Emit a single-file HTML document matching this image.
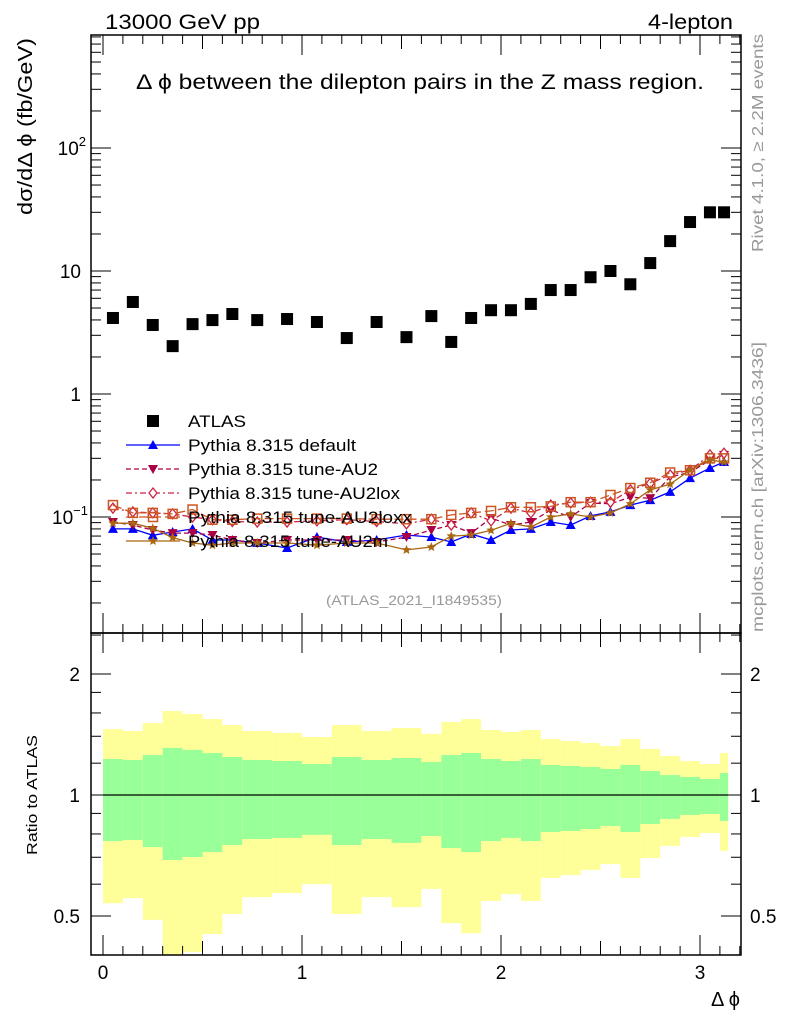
<!DOCTYPE html>
<html><head><meta charset="utf-8"><style>
body{margin:0;background:#fff}
svg{display:block;font-family:"Liberation Sans",sans-serif}
</style></head><body>
<svg id="c" width="786" height="1024" viewBox="0 0 786 1024">
<text x="105" y="29" font-size="21" textLength="155" lengthAdjust="spacingAndGlyphs">13000 GeV pp</text>
<text x="648" y="29" font-size="21" textLength="85" lengthAdjust="spacingAndGlyphs">4-lepton</text>
<text x="136" y="89" font-size="21" textLength="568" lengthAdjust="spacingAndGlyphs">Δ ϕ between the dilepton pairs in the Z mass region.</text>
<text x="326" y="605" font-size="14" fill="#999" textLength="176" lengthAdjust="spacingAndGlyphs">(ATLAS_2021_I1849535)</text>
<text transform="translate(32,215) rotate(-90)" font-size="20" textLength="177" lengthAdjust="spacingAndGlyphs">dσ/dΔ ϕ (fb/GeV)</text>
<text transform="translate(37,855) rotate(-90)" font-size="15" textLength="120" lengthAdjust="spacingAndGlyphs">Ratio to ATLAS</text>
<text x="740" y="1006" font-size="20" text-anchor="end">Δ ϕ</text>
<text transform="translate(763,252) rotate(-90)" font-size="16" fill="#999" textLength="218" lengthAdjust="spacingAndGlyphs">Rivet 4.1.0, ≥ 2.2M events</text>
<text transform="translate(763,632) rotate(-90)" font-size="16" fill="#999" textLength="290" lengthAdjust="spacingAndGlyphs">mcplots.cern.ch [arXiv:1306.3436]</text>
<g id="bands"></g><g id="main"></g><g id="axes"></g><g id="legend"></g>
</svg>
<script>
const edges=[0,0.1,0.2,0.3,0.4,0.5,0.6,0.7,0.85,1.0,1.15,1.3,1.45,1.6,1.7,1.8,1.9,2.0,2.1,2.2,2.3,2.4,2.5,2.6,2.7,2.8,2.9,3.0,3.1,3.1416];
const atlas=[4.15,5.6,3.64,2.45,3.7,3.99,4.47,3.99,4.07,3.85,2.85,3.85,2.9,4.3,2.65,4.15,4.8,4.8,5.4,7.0,7.0,8.9,10,7.8,11.6,17.5,25,30,30];
const pDefault=[0.080,0.080,0.071,0.0755,0.080,0.065,0.065,0.0615,0.056,0.0687,0.0626,0.065,0.0714,0.0687,0.0626,0.0727,0.065,0.0784,0.080,0.091,0.086,0.102,0.110,0.125,0.137,0.160,0.207,0.250,0.280];
const pAU2=[0.091,0.086,0.0784,0.074,0.074,0.0714,0.065,0.0615,0.065,0.065,0.065,0.0626,0.0687,0.0784,0.086,0.074,0.098,0.086,0.091,0.114,0.100,0.130,0.128,0.145,0.142,0.212,0.23,0.29,0.32];
const pAU2lox=[0.118,0.11,0.108,0.106,0.1,0.095,0.092,0.091,0.091,0.093,0.095,0.092,0.088,0.096,0.086,0.108,0.093,0.118,0.108,0.125,0.13,0.132,0.132,0.166,0.188,0.22,0.24,0.32,0.33];
const pAU2loxx=[0.125,0.108,0.108,0.106,0.115,0.095,0.095,0.097,0.097,0.097,0.097,0.096,0.096,0.096,0.104,0.108,0.112,0.12,0.12,0.122,0.132,0.132,0.151,0.172,0.19,0.23,0.24,0.30,0.30];
const pAU2m=[0.089,0.089,0.081,0.068,0.0615,0.059,0.0615,0.0615,0.0615,0.059,0.0615,0.0615,0.054,0.057,0.070,0.0714,0.078,0.089,0.083,0.100,0.106,0.100,0.108,0.128,0.166,0.185,0.241,0.290,0.280];
const yelHi=[1.459,1.443,1.510,1.618,1.590,1.545,1.493,1.443,1.427,1.394,1.493,1.443,1.468,1.419,1.519,1.545,1.451,1.435,1.451,1.378,1.362,1.347,1.324,1.378,1.302,1.250,1.215,1.194,1.272];
const grnHi=[1.229,1.222,1.257,1.31,1.295,1.272,1.243,1.222,1.215,1.194,1.243,1.222,1.236,1.208,1.257,1.272,1.229,1.215,1.229,1.188,1.181,1.174,1.161,1.188,1.147,1.121,1.109,1.096,1.134];
const grnLo=[0.768,0.773,0.742,0.689,0.701,0.721,0.751,0.777,0.782,0.796,0.751,0.777,0.760,0.791,0.738,0.721,0.768,0.782,0.768,0.809,0.814,0.823,0.837,0.809,0.847,0.872,0.892,0.897,0.862];
const yelLo=[0.538,0.554,0.489,0.38,0.407,0.451,0.506,0.557,0.570,0.600,0.506,0.557,0.526,0.584,0.480,0.453,0.545,0.567,0.545,0.622,0.632,0.651,0.673,0.622,0.697,0.747,0.786,0.804,0.726];
const xTicks=[0,1,2,3];
const mainTicks=[{v:0.1,t:"10",e:"−1"},{v:1,t:"1"},{v:10,t:"10"},{v:100,t:"10",e:"2"}];
const ratioTicks=[0.5,1,2];

const NS="http://www.w3.org/2000/svg";
const L=91,R=741,T=35,MB=633,RB=955;
const X=v=>103+v*199;
const Y=v=>517-(Math.log10(v)+1)*123;
const RY=v=>795-Math.log2(v)*121;
function mk(tag,at,par){const e=document.createElementNS(NS,tag);for(const k in at)e.setAttribute(k,at[k]);par.appendChild(e);return e;}
const bands=document.getElementById('bands'),main=document.getElementById('main'),axes=document.getElementById('axes'),leg=document.getElementById('legend');
const clip=mk('clipPath',{id:'rc'},bands);mk('rect',{x:L,y:MB,width:R-L,height:RB-MB},clip);
const clip2=mk('clipPath',{id:'mc'},bands);mk('rect',{x:L,y:T,width:R-L,height:MB-T},clip2);
for(let i=0;i<atlas.length;i++){
  const x0=X(edges[i]),w=X(edges[i+1])-x0;
  let r=mk('rect',{x:x0,y:RY(yelHi[i]),width:w,height:RY(yelLo[i])-RY(yelHi[i]),fill:'#ffff99','clip-path':'url(#rc)'},bands);
  
  
  r=mk('rect',{x:x0,y:RY(grnHi[i]),width:w,height:RY(grnLo[i])-RY(grnHi[i]),fill:'#99ff99','clip-path':'url(#rc)'},bands);
  
  
}
let ln=mk('line',{x1:X(0),x2:X(3.1416),y1:RY(1),y2:RY(1),stroke:'#000','stroke-width':1.3},bands);


const centers=atlas.map((_,i)=>(edges[i]+edges[i+1])/2);
function marker(kind,x,y,col,g){
  if(kind==='tri')mk('path',{d:`M${x} ${y-5}L${x+5} ${y+4}L${x-5} ${y+4}Z`,fill:col},g);
  else if(kind==='itri')mk('path',{d:`M${x} ${y+5}L${x+5} ${y-4}L${x-5} ${y-4}Z`,fill:col},g);
  else if(kind==='dia')mk('path',{d:`M${x} ${y-5}L${x+4} ${y}L${x} ${y+5}L${x-4} ${y}Z`,fill:'#fff',stroke:col,'stroke-width':1.3},g);
  else if(kind==='sq')mk('rect',{x:x-4.5,y:y-4.5,width:9,height:9,fill:'none',stroke:col,'stroke-width':1.5},g);
  else if(kind==='star'){let p='';for(let k=0;k<10;k++){const a=-Math.PI/2+k*Math.PI/5,rr=k%2?2.2:5;p+=(k?'L':'M')+(x+rr*Math.cos(a)).toFixed(1)+' '+(y+rr*Math.sin(a)).toFixed(1);}mk('path',{d:p+'Z',fill:col},g);}
  else if(kind==='box')mk('rect',{x:x-6,y:y-6,width:12,height:12,fill:col},g);
}
const series=[
 {name:'Pythia 8.315 default',d:pDefault,col:'#0000ff',dash:'',m:'tri',dn:'series-default',tl:168},
 {name:'Pythia 8.315 tune-AU2',d:pAU2,col:'#aa0044',dash:'5,3',m:'itri',dn:'series-au2',tl:190},
 {name:'Pythia 8.315 tune-AU2lox',d:pAU2lox,col:'#cc2244',dash:'6,3,2,3',m:'dia',dn:'series-au2lox',tl:212},
 {name:'Pythia 8.315 tune-AU2loxx',d:pAU2loxx,col:'#cc5522',dash:'9,4',m:'sq',dn:'series-au2loxx',tl:224},
 {name:'Pythia 8.315 tune-AU2m',d:pAU2m,col:'#aa6611',dash:'',m:'star',dn:'series-au2m',tl:200}];
series.forEach(s=>{
  const g=mk('g',{'clip-path':'url(#mc)'},main);
  
  
  mk('polyline',{points:s.d.map((v,i)=>X(centers[i]).toFixed(1)+','+Y(v).toFixed(1)).join(' '),fill:'none',stroke:s.col,'stroke-width':1.3,'stroke-dasharray':s.dash},g);
  s.d.forEach((v,i)=>marker(s.m,X(centers[i]),Y(v),s.col,g));
});
const ga=mk('g',{},main);


atlas.forEach((v,i)=>marker('box',X(centers[i]),Y(v),'#000',ga));
[[T,MB],[MB,RB]].forEach(([a,b])=>{const f=mk('rect',{x:L,y:a,width:R-L,height:b-a,fill:'none',stroke:'#000','stroke-width':1.5},axes);

});
function tick(x1,y1,x2,y2){mk('line',{x1,y1,x2,y2,stroke:'#000','stroke-width':1},axes);}
for(let k=0;k<=32;k++){const v=k/10,x=X(v);if(x>R)break;const big=k%10===0?20:(k%5===0?14:9);
  tick(x,T,x,T+big);tick(x,MB,x,MB-big);tick(x,MB,x,MB+big);tick(x,RB,x,RB-big);}
xTicks.forEach(v=>{const t=mk('text',{x:X(v),y:979,'font-size':19,'text-anchor':'middle'},axes);t.textContent=v;

});
for(let d=-2;d<=2;d++)for(let m=1;m<10;m++){const v=m*Math.pow(10,d),y=Y(v);if(y<T||y>MB)continue;const l=m===1?20:10;tick(L,y,L+l,y);tick(R,y,R-l,y);}
mainTicks.forEach(o=>{const t=mk('text',{x:81,y:Y(o.v)+7,'font-size':19,'text-anchor':'end'},axes);
const a=mk('tspan',{},t);a.textContent=o.t;
if(o.e){const s=mk('tspan',{dy:-9,'font-size':13},t);s.textContent=o.e;t.setAttribute('x',o.e.length>1?88:86);}

});
[0.4,0.5,0.6,0.7,0.8,0.9,1,1.2,1.4,1.6,1.8,2,2.5].forEach(v=>{const y=RY(v);if(y<MB||y>RB)return;const l=(v===0.5||v===1||v===2)?20:10;tick(L,y,L+l,y);tick(R,y,R-l,y);});
ratioTicks.forEach(v=>{[[80,'end'],[750,'start']].forEach(([x,a])=>{const t=mk('text',{x,y:RY(v)+7,'font-size':19,'text-anchor':a},axes);t.textContent=v;

});});
const lg=[{name:'ATLAS',m:'box',col:'#000',dash:null,tl:58}].concat(series);
lg.forEach((s,i)=>{const y=421+i*24;const g=mk('g',{},leg);


if(s.dash!==null)mk('line',{x1:126,x2:180,y1:y,y2:y,stroke:s.col,'stroke-width':1.3,'stroke-dasharray':s.dash},g);
marker(s.m,153,y,s.col,g);
const t=mk('text',{x:188,y:y+6,'font-size':17,textLength:s.tl,lengthAdjust:'spacingAndGlyphs'},g);t.textContent=s.name;});
</script>
</body></html>
